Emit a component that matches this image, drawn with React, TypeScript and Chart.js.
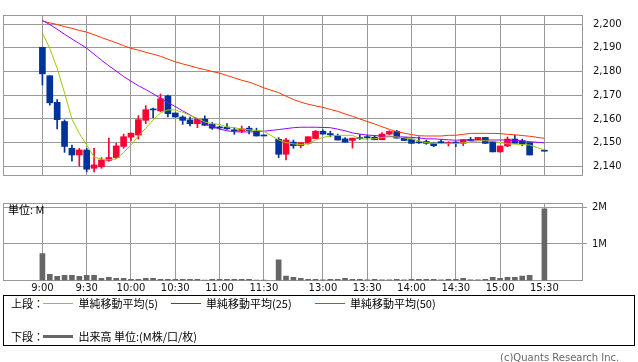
import React, { useEffect, useRef } from "react";
import { Chart, registerables } from "chart.js";

Chart.register(...registerables);

// ---- axis labels ----
const timeLabels = ["9:00", "9:30", "10:00", "10:30", "11:00", "11:30", "13:00", "13:30", "14:00", "14:30", "15:00", "15:30"];
const timeLabelSlots = [0, 6, 12, 18, 24, 30, 38, 44, 50, 56, 62, 68];
const priceTicks = [2140, 2150, 2160, 2170, 2180, 2190, 2200];
const priceTickLabels = ["2,140", "2,150", "2,160", "2,170", "2,180", "2,190", "2,200"];
const volumeTicks = [1, 2];
const volumeTickLabels = ["1M", "2M"];

// ---- 5-minute candles (slot 31 = lunch gap, slot 67 = pre-close gap) ----
const openPrice = [
  2190.2, 2178.2, 2167.0, 2158.9, 2147.6, 2144.8, 2146.9, 2139.2, 2139.8, 2142.5,
  2143.7, 2148.4, 2152.3, 2153.2, 2159.4, 2164.0, 2163.4, 2169.7, 2162.5, 2160.8,
  2159.6, 2158.0, 2159.9, 2157.8, 2156.4, 2156.5, 2155.4, 2154.9, 2156.1, 2154.9,
  2152.9, null, 2151.4, 2145.1, 2150.2, 2148.7, 2149.7, 2151.7, 2154.8, 2153.8,
  2152.8, 2151.6, 2150.9, 2152.1, 2152.4, 2152.3, 2151.2, 2153.6, 2154.7, 2152.2,
  2151.5, 2150.1, 2150.5, 2149.8, 2150.2, 2149.6, 2150.0, 2149.7, 2151.0, 2151.2,
  2152.2, 2150.4, 2146.1, 2148.6, 2151.5, 2150.8, 2150.0, null, 2146.4,
];
const highPrice = [
  2190.2, 2178.2, 2168.2, 2159.6, 2149.0, 2147.6, 2147.6, 2147.6, 2143.7, 2151.9,
  2149.7, 2153.6, 2154.0, 2161.4, 2165.6, 2164.6, 2170.5, 2170.0, 2162.5, 2161.3,
  2160.8, 2159.9, 2161.3, 2158.5, 2157.0, 2158.0, 2156.3, 2157.0, 2156.9, 2156.1,
  2152.9, null, 2152.1, 2151.8, 2151.1, 2150.0, 2152.5, 2155.1, 2155.4, 2154.8,
  2153.6, 2152.1, 2151.9, 2153.4, 2153.1, 2152.8, 2154.2, 2155.0, 2155.2, 2152.2,
  2151.5, 2152.4, 2151.1, 2149.9, 2151.2, 2150.4, 2150.4, 2151.2, 2152.2, 2152.2,
  2152.2, 2150.5, 2148.6, 2152.4, 2153.1, 2151.5, 2150.0, null, 2146.4,
];
const lowPrice = [
  2174.3, 2165.8, 2155.8, 2145.9, 2142.2, 2140.1, 2137.7, 2137.7, 2139.2, 2142.1,
  2143.3, 2147.6, 2150.8, 2151.5, 2158.0, 2160.5, 2163.1, 2160.8, 2160.8, 2157.7,
  2157.0, 2156.3, 2157.3, 2155.6, 2155.6, 2155.6, 2153.5, 2154.2, 2153.7, 2152.8,
  2152.9, null, 2143.7, 2142.7, 2147.6, 2147.8, 2149.4, 2151.7, 2153.6, 2152.5,
  2151.1, 2150.2, 2147.7, 2151.3, 2151.5, 2151.2, 2151.2, 2153.3, 2151.9, 2150.9,
  2149.7, 2149.7, 2149.3, 2148.3, 2149.6, 2148.6, 2148.3, 2148.7, 2150.7, 2151.2,
  2149.7, 2146.1, 2146.0, 2148.3, 2149.7, 2148.7, 2144.8, null, 2146.4,
];
const closePrice = [
  2179.0, 2166.8, 2159.7, 2148.4, 2144.8, 2146.9, 2138.8, 2140.6, 2142.7, 2143.7,
  2148.6, 2152.5, 2154.0, 2159.7, 2163.9, 2163.8, 2168.5, 2162.2, 2160.8, 2159.4,
  2158.0, 2159.9, 2157.3, 2156.1, 2156.2, 2155.8, 2154.9, 2155.8, 2155.1, 2152.8,
  2152.8, null, 2145.1, 2151.1, 2148.7, 2150.0, 2152.5, 2154.8, 2153.6, 2153.3,
  2151.1, 2150.2, 2151.9, 2151.7, 2152.1, 2151.2, 2153.6, 2154.7, 2151.9, 2150.9,
  2149.7, 2149.9, 2149.7, 2148.7, 2150.0, 2149.9, 2149.8, 2151.2, 2150.9, 2152.2,
  2149.7, 2146.1, 2148.6, 2151.5, 2149.7, 2149.5, 2144.8, null, 2146.4,
];

// ---- moving averages ----
const ma5 = [
  2196.2, 2189.8, 2181.3, 2171.0, 2159.9, 2153.9, 2149.0, 2143.9, 2143.1, 2142.8,
  2143.1, 2145.9, 2149.0, 2152.8, 2156.1, 2159.6, 2162.5, 2163.8, 2163.8, 2162.8,
  2161.5, 2160.3, 2158.7, 2158.0, 2157.7, 2156.6, 2156.3, 2155.7, 2155.4, 2155.2,
  2154.8, null, 2151.1, 2150.0, 2149.5, 2149.2, 2149.5, 2151.1, 2152.2, 2152.8,
  2153.1, 2153.1, 2153.1, 2151.6, 2151.5, 2151.6, 2152.2, 2152.4, 2152.4, 2152.0,
  2151.5, 2150.8, 2150.0, 2149.7, 2149.6, 2149.6, 2149.6, 2149.9, 2150.4, 2150.7,
  2150.8, 2150.6, 2150.0, 2149.5, 2149.4, 2149.2, 2149.0, null, 2146.9,
];
const ma25 = [
  2201.5, 2199.8, 2197.8, 2195.7, 2193.7, 2191.8, 2189.8, 2187.3, 2184.8, 2182.4,
  2180.2, 2177.9, 2175.9, 2174.0, 2172.4, 2170.6, 2168.7, 2166.9, 2165.2, 2163.4,
  2161.7, 2159.8, 2158.0, 2156.8, 2155.7, 2155.0, 2154.6, 2154.5, 2154.5, 2154.6,
  2154.8, null, 2155.5, 2155.9, 2156.3, 2156.5, 2156.5, 2156.5, 2156.4, 2156.3,
  2155.7, 2155.0, 2154.1, 2153.6, 2153.2, 2153.0, 2152.8, 2152.7, 2152.4, 2152.4,
  2152.2, 2152.0, 2151.6, 2151.6, 2151.4, 2151.2, 2151.0, 2151.2, 2151.1, 2151.1,
  2151.1, 2151.1, 2151.1, 2151.1, 2150.9, 2150.8, 2150.4, null, 2149.9,
];
const ma50 = [
  2201.3, 2200.5, 2199.8, 2198.9, 2198.2, 2197.3, 2196.6, 2195.5, 2194.3, 2193.2,
  2192.1, 2190.9, 2189.8, 2189.0, 2188.1, 2187.3, 2186.4, 2185.2, 2184.1, 2183.2,
  2182.4, 2181.5, 2180.8, 2180.0, 2179.3, 2178.3, 2177.3, 2176.3, 2175.5, 2174.4,
  2173.1, null, 2171.1, 2169.6, 2168.2, 2167.1, 2166.2, 2165.5, 2164.9, 2164.0,
  2163.2, 2162.1, 2161.1, 2160.0, 2158.9, 2157.9, 2156.7, 2155.6, 2154.6, 2154.0,
  2153.4, 2152.9, 2152.8, 2152.8, 2152.8, 2153.1, 2153.1, 2153.5, 2153.9, 2153.9,
  2153.9, 2153.9, 2153.8, 2153.5, 2153.3, 2153.0, 2152.7, null, 2151.8,
];

// ---- volume (millions) ----
const volume = [
  0.733, 0.168, 0.114, 0.141, 0.141, 0.114, 0.141, 0.141, 0.061, 0.088,
  0.061, 0.061, 0.035, 0.035, 0.061, 0.061, 0.035, 0.035, 0.035, 0.035,
  0.035, 0.035, 0.012, 0.035, 0.035, 0.035, 0.035, 0.035, 0.035, 0.012,
  0.012, null, 0.566, 0.123, 0.09, 0.06, 0.035, 0.035, 0.015, 0.035,
  0.035, 0.06, 0.035, 0.035, 0.015, 0.035, 0.015, 0.015, 0.035, 0.015,
  0.035, 0.035, 0.035, 0.035, 0.015, 0.035, 0.035, 0.06, 0.015, 0.015,
  0.035, 0.09, 0.06, 0.09, 0.09, 0.12, 0.14, null, 1.96,
];

const UP = "#ff0033";
const DOWN = "#003399";
const GRID = "#999999";
const X_MIN = -5.337;
const X_MAX = 73.229;

function framePlugin(dl: number, dt: number, dr: number, db: number) {
  return {
    id: "frame",
    beforeDatasetsDraw(chart: any) {
      const a = chart.chartArea;
      const ctx = chart.ctx;
      ctx.save();
      ctx.strokeStyle = GRID;
      ctx.lineWidth = 1;
      const x0 = a.left + dl, y0 = a.top + dt, x1 = a.right + dr, y1 = a.bottom + db;
      ctx.strokeRect(x0, y0, x1 - x0, y1 - y0);
      ctx.restore();
    },
  };
}

export default function App() {
  const priceRef = useRef<HTMLCanvasElement>(null);
  const volRef = useRef<HTMLCanvasElement>(null);

  useEffect(() => {
    document.body.style.margin = "0";
    const idx = openPrice.map((_, i) => i).filter((i) => openPrice[i] !== null);
    const colors = idx.map((i) => ((closePrice[i] as number) > (openPrice[i] as number) ? UP : DOWN));
    const bodies = idx.map((i) => ({ x: i, y: [openPrice[i], closePrice[i]] }));
    const wicks = idx.map((i) => ({ x: i, y: [lowPrice[i], highPrice[i]] }));
    const line = (arr: (number | null)[]) => arr.map((v, i) => ({ x: i, y: v }));
    const font = { family: "DejaVu Sans", size: 10 };

    const xCommon = {
      type: "linear" as const,
      min: X_MIN,
      max: X_MAX,
      offset: false,
      afterBuildTicks: (axis: any) => {
        axis.ticks = timeLabelSlots.map((v) => ({ value: v }));
      },
      border: { display: false },
    };

    const c1 = new Chart(priceRef.current as HTMLCanvasElement, {
      type: "bar",
      data: {
        datasets: [
          { type: "line", data: line(ma5), borderColor: "#99cc00", borderWidth: 1, pointRadius: 0, spanGaps: true, tension: 0, order: 0 } as any,
          { type: "line", data: line(ma25), borderColor: "#9900ff", borderWidth: 1, pointRadius: 0, spanGaps: true, tension: 0, order: 1 } as any,
          { type: "line", data: line(ma50), borderColor: "#ff3300", borderWidth: 1, pointRadius: 0, spanGaps: true, tension: 0, order: 2 } as any,
          { type: "bar", data: bodies, backgroundColor: colors, barThickness: 6, grouped: false, minBarLength: 1, borderWidth: 0, order: 3 } as any,
          { type: "bar", data: wicks, backgroundColor: colors, barThickness: 1, grouped: false, minBarLength: 1, borderWidth: 0, order: 4 } as any,
        ],
      },
      options: {
        responsive: false,
        animation: false,
        devicePixelRatio: 1,
        events: [],
        layout: { padding: { left: 3, top: 1, right: 0, bottom: 1 } },
        plugins: { legend: { display: false }, tooltip: { enabled: false } },
        scales: {
          x: {
            ...xCommon,
            afterFit: (axis: any) => { axis.height = 0; },
            ticks: { display: false },
            grid: { color: GRID, drawTicks: false, offset: false },
          },
          y: {
            position: "right",
            min: 2135.935,
            max: 2203.3905,
            afterBuildTicks: (axis: any) => {
              axis.ticks = priceTicks.map((v) => ({ value: v }));
            },
            afterFit: (axis: any) => { axis.width = 55; },
            border: { display: false },
            grid: { color: GRID, drawTicks: false },
            ticks: {
              padding: 10,
              autoSkip: false,
              font,
              color: "#111",
              callback: (v: any) => priceTickLabels[priceTicks.indexOf(Number(v))],
            },
          },
        },
      } as any,
      plugins: [framePlugin(0.5, -0.5, -0.5, -0.5)],
    });

    const c2 = new Chart(volRef.current as HTMLCanvasElement, {
      type: "bar",
      data: {
        datasets: [
          {
            type: "bar",
            data: volume.map((v, i) => ({ x: i, y: v })).filter((p) => p.y !== null),
            backgroundColor: "#666666",
            barThickness: 5,
            grouped: false,
            borderWidth: 0,
          } as any,
        ],
      },
      options: {
        responsive: false,
        animation: false,
        devicePixelRatio: 1,
        events: [],
        layout: { padding: { left: 3, top: 9, right: 0, bottom: 0 } },
        plugins: { legend: { display: false }, tooltip: { enabled: false } },
        scales: {
          x: {
            ...xCommon,
            afterFit: (axis: any) => { axis.height = 15.5; },
            grid: { color: GRID, drawTicks: false, offset: false },
            ticks: {
              padding: 2,
              autoSkip: false,
              maxRotation: 0,
              font,
              color: "#111",
              callback: (v: any) => timeLabels[timeLabelSlots.indexOf(Number(v))],
            },
          },
          y: {
            position: "right",
            min: 0,
            max: 2.12,
            afterBuildTicks: (axis: any) => {
              axis.ticks = volumeTicks.map((v) => ({ value: v }));
            },
            afterFit: (axis: any) => { axis.width = 55; },
            border: { display: false },
            grid: { color: GRID, drawTicks: true, tickLength: 4 },
            ticks: {
              padding: 5,
              autoSkip: false,
              font,
              color: "#111",
              callback: (v: any) => volumeTickLabels[volumeTicks.indexOf(Number(v))],
            },
          },
        },
      } as any,
      plugins: [framePlugin(0.5, 0.5, -0.5, 0)],
    });

    return () => {
      c1.destroy();
      c2.destroy();
    };
  }, []);

  const jp: React.CSSProperties = {
    position: "absolute",
    fontFamily: '"Noto Sans CJK JP", sans-serif',
    fontSize: 11,
    lineHeight: "14px",
    color: "#000",
    whiteSpace: "nowrap",
  };
  const sample = (left: number, top: number, color: string, h = 1): React.CSSProperties => ({
    position: "absolute",
    left,
    top,
    width: 30,
    height: h,
    background: color,
  });

  return (
    <div style={{ position: "absolute", left: 0, top: 0, width: 638, height: 362, background: "#fff", overflow: "hidden" }}>
      <canvas ref={priceRef} width={638} height={192} style={{ position: "absolute", left: 0, top: 0, width: 638, height: 192 }} />
      <canvas ref={volRef} width={638} height={104} style={{ position: "absolute", left: 0, top: 192, width: 638, height: 104 }} />
      <div style={{ ...jp, left: 8, top: 202 }}>単位: M</div>
      <div
        style={{
          position: "absolute",
          left: 3,
          top: 295,
          width: 632,
          height: 51,
          border: "1px solid #000",
          boxSizing: "border-box",
        }}
      />
      <div style={{ ...jp, left: 11, top: 296 }}>上段：</div>
      <div style={sample(43, 303, "#99cc00")} />
      <div style={{ ...jp, left: 78.5, top: 296 }}>単純移動平均(5)</div>
      <div style={sample(171, 303, "#9900ff")} />
      <div style={{ ...jp, left: 206, top: 296 }}>単純移動平均(25)</div>
      <div style={sample(315, 303, "#ff3300")} />
      <div style={{ ...jp, left: 350, top: 296 }}>単純移動平均(50)</div>
      <div style={{ ...jp, left: 11, top: 329 }}>下段：</div>
      <div style={sample(43, 335, "#666666", 3)} />
      <div style={{ ...jp, left: 78.5, top: 329 }}>出来高 単位:(M株/口/枚)</div>
      <div
        style={{
          position: "absolute",
          left: 500,
          top: 351,
          fontFamily: '"DejaVu Sans", sans-serif',
          fontSize: 10,
          lineHeight: "13px",
          color: "#666",
          whiteSpace: "nowrap",
        }}
      >
        (c)Quants Research Inc.
      </div>
    </div>
  );
}
